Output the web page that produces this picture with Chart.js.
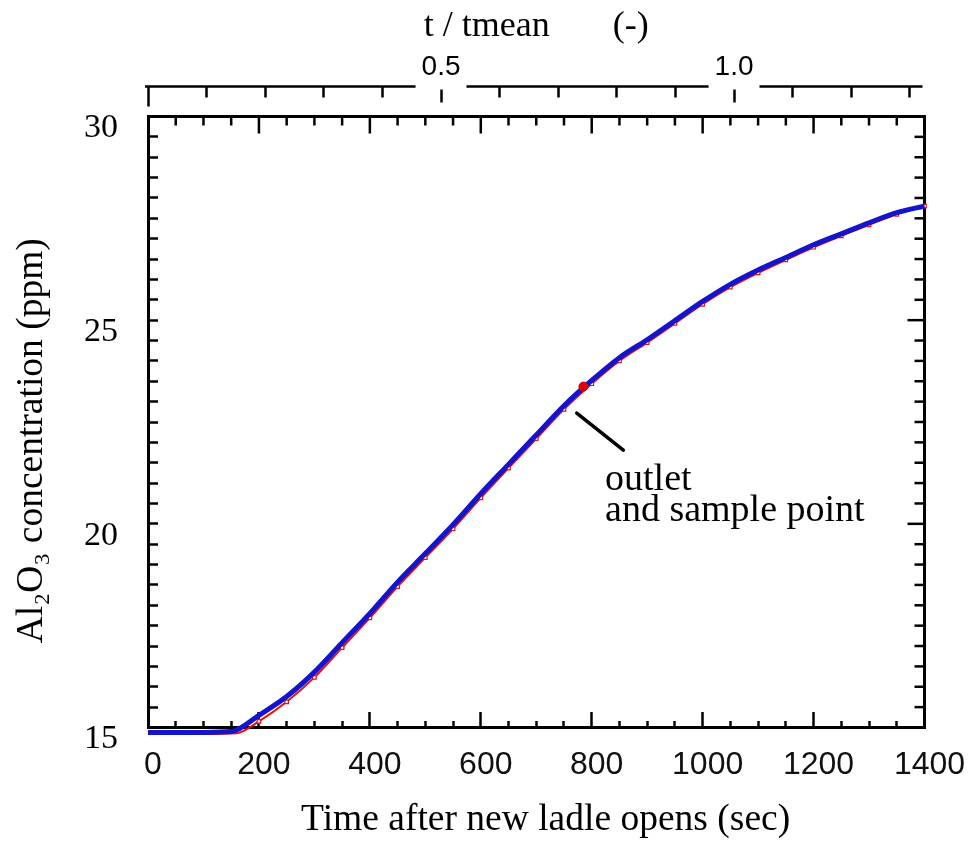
<!DOCTYPE html>
<html>
<head>
<meta charset="utf-8">
<script src="https://cdn.jsdelivr.net/npm/chart.js@4.4.1/dist/chart.umd.min.js"></script>
<style>
  body { margin: 0; background: #fff; }
  #wrap { width: 972px; height: 846px; position: relative; }
</style>
</head>
<body>
<div id="wrap"><canvas id="myChart"></canvas></div>
<script>
// values
const timeSec = [0, 50, 100, 150, 200, 250, 300, 350, 400, 450, 500, 550, 600, 650, 700,
    750, 800, 850, 900, 950, 1000, 1050, 1100, 1150, 1200, 1250, 1300, 1350, 1400];
const blueConc = [14.88, 14.88, 14.88, 14.9, 15.3, 15.76, 16.36, 17.08, 17.8, 18.57, 19.27, 19.98, 20.74, 21.46, 22.18,
    22.9, 23.52, 24.08, 24.52, 24.99, 25.46, 25.88, 26.23, 26.54, 26.85, 27.12, 27.39, 27.64, 27.8];
const redTime = [10, 50, 100, 160, 200, 250, 300, 350, 400, 450, 500, 550, 600, 650, 700,
    750, 800, 850, 900, 950, 1000, 1050, 1100, 1150, 1200, 1250, 1300, 1350, 1400];
const redConc = [14.84, 14.84, 14.84, 14.86, 15.15, 15.63, 16.23, 16.96, 17.69, 18.46, 19.17, 19.88, 20.64, 21.37, 22.09,
    22.81, 23.44, 24.0, 24.45, 24.92, 25.39, 25.81, 26.16, 26.48, 26.79, 27.07, 27.34, 27.6, 27.8];
const sampleTime = [785];
const sampleConc = [23.37];

const xLabelTicks = [0, 200, 400, 600, 800, 1000, 1200, 1400];
const yLabelTicks = [15, 20, 25, 30];
const topLabelTicks = [0.5, 1.0];

// pointer + note, in data units (sec, ppm)
const pointerLine = [[773, 22.72], [857, 21.81]];
const noteLines = ['outlet', 'and sample point'];
const notePos = [[824, 20.83], [824, 20.08]];

const serif = "'Liberation Serif', 'Times New Roman', serif";
const sans = "'Liberation Sans', Arial, sans-serif";

const isLabel = (list, v) => list.some(l => Math.abs(l - v) < 1e-6);

// fixed box sizes so the plot frame lands where the reference has it
const fixBox = (w, h) => s => {
    if (w !== null) s.width = w;
    if (h !== null) s.height = h;
    s.paddingLeft = 0;
    s.paddingRight = 0;
    s.paddingTop = 0;
    s.paddingBottom = 0;
};

const topAxisLine = {
    id: 'topAxisLine',
    beforeDraw(chart) {
        const s = chart.scales.x2;
        const c = chart.ctx;
        const y = s.bottom - s.options.grid.tickLength;
        c.save();
        c.strokeStyle = '#000';
        c.lineWidth = 2.5;
        c.beginPath();
        c.moveTo(s.getPixelForValue(0) - 3, y);
        c.lineTo(s.right - 2, y);
        c.stroke();
        c.restore();
    }
};

const frameTicks = {
    id: 'frameTicks',
    beforeDatasetsDraw(chart) {
        const {ctx: c, chartArea: a, scales} = chart;
        c.save();
        c.strokeStyle = '#000';
        c.lineWidth = 3;
        c.beginPath();
        c.moveTo(a.right, a.top - 1.5);
        c.lineTo(a.right, a.bottom + 1.5);
        c.stroke();
        c.lineWidth = 2.5;
        scales.y.ticks.forEach(t => {
            const py = scales.y.getPixelForValue(t.value);
            const len = t.value % 5 === 0 ? 17 : 10;
            c.beginPath();
            c.moveTo(a.right, py);
            c.lineTo(a.right - len, py);
            c.stroke();
        });
        scales.x.ticks.forEach(t => {
            if (t.value === 0 || t.value === 1400) return;
            const px = scales.x.getPixelForValue(t.value);
            const len = t.value % 200 === 0 ? 17 : 9;
            c.beginPath();
            c.moveTo(px, a.top);
            c.lineTo(px, a.top + len);
            c.stroke();
        });
        c.restore();
    }
};

const note = {
    id: 'note',
    afterDatasetsDraw(chart) {
        const {ctx: c, scales: {x, y}} = chart;
        c.save();
        c.strokeStyle = '#000';
        c.lineWidth = 3.5;
        c.lineCap = 'round';
        c.beginPath();
        c.moveTo(x.getPixelForValue(pointerLine[0][0]), y.getPixelForValue(pointerLine[0][1]));
        c.lineTo(x.getPixelForValue(pointerLine[1][0]), y.getPixelForValue(pointerLine[1][1]));
        c.stroke();
        c.fillStyle = '#000';
        c.font = '38px ' + serif;
        c.textBaseline = 'alphabetic';
        noteLines.forEach((txt, i) => {
            c.fillText(txt, x.getPixelForValue(notePos[i][0]), y.getPixelForValue(notePos[i][1]));
        });
        c.restore();
    }
};

const ctx = document.getElementById('myChart').getContext('2d');
new Chart(ctx, {
    type: 'line',
    data: {
        datasets: [
            {
                label: 'sample point',
                data: sampleTime.map((t, i) => ({x: t, y: sampleConc[i]})),
                showLine: false,
                pointRadius: 4.5,
                pointBackgroundColor: '#e00000',
                pointBorderColor: '#e00000',
                clip: false
            },
            {
                label: 'blue',
                data: timeSec.map((t, i) => ({x: t, y: blueConc[i]})),
                borderColor: '#1414cc',
                borderWidth: 5,
                pointRadius: 0,
                cubicInterpolationMode: 'monotone',
                clip: false
            },
            {
                label: 'red',
                data: redTime.map((t, i) => ({x: t, y: redConc[i]})),
                borderColor: '#e81010',
                borderWidth: 2,
                pointStyle: 'rect',
                pointRadius: 2.5,
                pointBorderWidth: 1.2,
                pointBorderColor: '#e81010',
                pointBackgroundColor: '#fff',
                cubicInterpolationMode: 'monotone',
                clip: false
            }
        ]
    },
    options: {
        responsive: true,
        maintainAspectRatio: false,
        animation: false,
        events: [],
        layout: { padding: { left: 0, right: 47.5, top: 0, bottom: 0 } },
        scales: {
            x: {
                type: 'linear',
                position: 'bottom',
                min: 0,
                max: 1400,
                afterFit: fixBox(null, 118.5),
                ticks: {
                    stepSize: 50,
                    autoSkip: false,
                    maxRotation: 0,
                    minRotation: 0,
                    padding: 35.5,
                    labelOffset: 5,
                    color: '#111',
                    font: { family: sans, size: 32 },
                    callback: v => isLabel(xLabelTicks, v) ? String(v) : ''
                },
                grid: {
                    drawOnChartArea: false,
                    tickLength: -17,
                    tickWidth: 2.5,
                    tickColor: '#000',
                    tickBorderDash: c => isLabel(xLabelTicks, c.tick.value) ? [17, 100] : [8, 100]
                },
                border: { color: '#000', width: 3 },
                title: {
                    display: true,
                    text: '  Time after new ladle opens (sec)',
                    color: '#000',
                    font: { family: serif, size: 37.5 },
                    padding: { top: 0, bottom: 3 }
                }
            },
            x2: {
                type: 'linear',
                position: 'top',
                min: 0,
                max: 1.325,
                afterFit: fixBox(null, 116.5),
                ticks: {
                    stepSize: 0.1,
                    includeBounds: false,
                    autoSkip: false,
                    maxRotation: 0,
                    minRotation: 0,
                    padding: 2,
                    color: '#000',
                    font: { family: sans, size: 28 },
                    showLabelBackdrop: true,
                    backdropColor: c => c.tick && c.tick.label ? '#fff' : 'rgba(0,0,0,0)',
                    backdropPadding: { left: 6, right: 6, top: 0, bottom: 5 },
                    callback: v => isLabel(topLabelTicks, v) ? v.toFixed(1) : ''
                },
                grid: {
                    drawOnChartArea: false,
                    tickLength: 30,
                    tickWidth: 2.5,
                    tickColor: '#000',
                    tickBorderDash: c => {
                        const v = c.tick.value;
                        if (Math.abs(v) < 1e-6) return [20, 100];
                        return isLabel(topLabelTicks, v) ? [16, 100] : [11, 100];
                    }
                },
                border: { color: '#000', width: 3 },
                title: {
                    display: true,
                    text: 't / tmean       (-)',
                    color: '#000',
                    font: { family: serif, size: 36 },
                    padding: { top: 5, bottom: 0 }
                }
            },
            y: {
                type: 'linear',
                position: 'left',
                min: 15,
                max: 30,
                afterFit: fixBox(148, null),
                ticks: {
                    stepSize: 0.5,
                    autoSkip: false,
                    padding: 40,
                    labelOffset: 12,
                    color: '#000',
                    font: { family: serif, size: 34 },
                    callback: v => isLabel(yLabelTicks, v) ? String(v) : ''
                },
                grid: {
                    drawOnChartArea: false,
                    tickLength: -10,
                    tickWidth: 2.5,
                    tickColor: '#000'
                },
                border: { color: '#000', width: 3 },
                title: {
                    display: true,
                    text: 'Al\u2082O\u2083 concentration (ppm)    ',
                    color: '#000',
                    font: { family: serif, size: 37.5 },
                    padding: { top: 10, bottom: 0 }
                }
            }
        },
        plugins: {
            legend: { display: false },
            tooltip: { enabled: false }
        }
    },
    plugins: [topAxisLine, frameTicks, note]
});
</script>
</body>
</html>
